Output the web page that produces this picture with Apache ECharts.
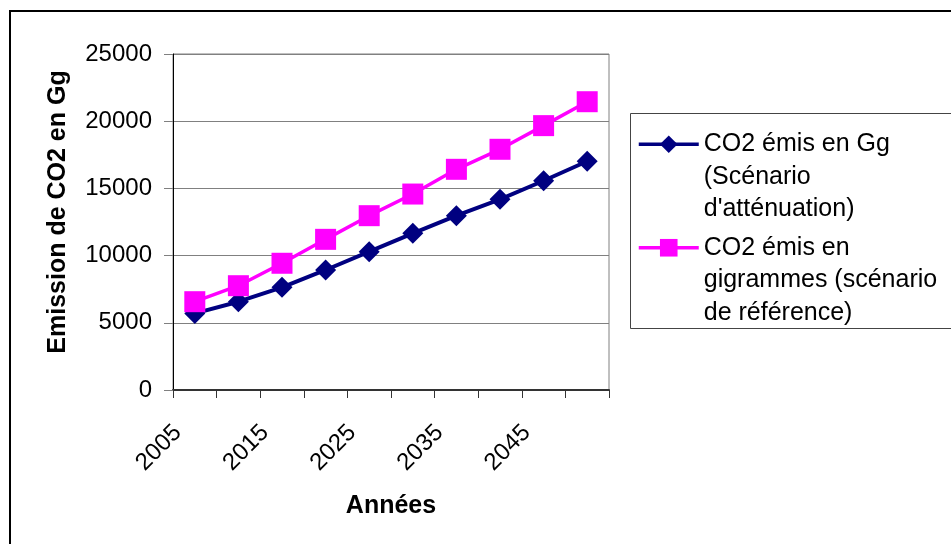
<!DOCTYPE html>
<html>
<head>
<meta charset="utf-8">
<script src="https://cdn.jsdelivr.net/npm/echarts@6/dist/echarts.min.js"></script>
<style>
html,body{margin:0;padding:0;background:#fff;}
#chart{width:951px;height:544px;}
</style>
</head>
<body>
<div id="chart"></div>
<script>
const categories = ['2005','2010','2015','2020','2025','2030','2035','2040','2045','2050'];
const attenuation = [5700, 6570, 7640, 8930, 10290, 11660, 12970, 14190, 15570, 17020];
const reference = [6570, 7760, 9430, 11210, 12970, 14580, 16420, 17910, 19670, 21450];
const yTicks = { min: 0, max: 25000, interval: 5000 };
const seriesNames = ["CO2 émis en Gg\n(Scénario\nd'atténuation)", "CO2 émis en\ngigrammes (scénario\nde référence)"];
const xTitle = 'Années';
const yTitle = 'Emission de CO2 en Gg';

const FONT = '"Liberation Sans", Arial, sans-serif';
const chart = echarts.init(document.getElementById('chart'), null, {renderer: 'canvas'});
chart.setOption({
  backgroundColor: '#fff',
  animation: false,
  textStyle: { fontFamily: FONT, color: '#000' },
  grid: { left: 173, right: 342, top: 54, bottom: 154, show: true, borderColor: '#808080', borderWidth: 1, backgroundColor: '#fff' },
  graphic: [
    { type: 'rect', shape: { x: 10, y: 11, width: 1000, height: 600 }, style: { fill: null, stroke: '#000', lineWidth: 2 }, silent: true, z: 100 },
    { type: 'rect', shape: { x: 630.5, y: 113.5, width: 400, height: 215 }, style: { fill: null, stroke: '#444', lineWidth: 1 }, silent: true, z: 100 }
  ],
  legend: {
    orient: 'vertical',
    left: 637,
    top: 63,
    padding: 0,
    itemGap: -59,
    itemWidth: 60,
    itemHeight: 22,
    selectedMode: false,
    lineStyle: { width: 3.5 },
    formatter: function (name) { return '\n\n' + name; },
    textStyle: { fontFamily: FONT, fontSize: 25, lineHeight: 32.5, color: '#000' },
    data: seriesNames
  },
  xAxis: {
    type: 'category',
    data: categories,
    boundaryGap: true,
    name: xTitle,
    nameLocation: 'middle',
    nameGap: 104,
    nameTextStyle: { fontFamily: FONT, fontSize: 25, fontWeight: 'bold', color: '#000' },
    axisLine: { lineStyle: { color: '#333', width: 2 } },
    axisTick: { show: true, interval: 0, length: 8, lineStyle: { color: '#333', width: 1 } },
    axisLabel: { interval: 1, rotate: 45, margin: 22, padding: [0, 24, 0, 0], fontFamily: FONT, fontSize: 24, color: '#000' },
    splitLine: { show: false }
  },
  yAxis: {
    type: 'value',
    min: yTicks.min, max: yTicks.max, interval: yTicks.interval,
    name: yTitle,
    nameLocation: 'middle',
    nameGap: 102,
    nameTextStyle: { fontFamily: FONT, fontSize: 25, fontWeight: 'bold', color: '#000', padding: [0, 0, 0, 20] },
    axisLine: { show: true, lineStyle: { color: '#000', width: 1 } },
    axisTick: { show: true, length: 9, lineStyle: { color: '#808080', width: 1 } },
    axisLabel: { margin: 21, fontFamily: FONT, fontSize: 24, color: '#000', formatter: function (v) { return String(v); } },
    splitLine: { show: true, lineStyle: { color: '#808080', width: 1 } }
  },
  series: [
    {
      name: seriesNames[0], type: 'line', data: attenuation,
      symbol: 'diamond', symbolSize: 21,
      lineStyle: { color: '#000080', width: 4 },
      itemStyle: { color: '#000080' }
    },
    {
      name: seriesNames[1], type: 'line', data: reference,
      symbol: 'rect', symbolSize: 21,
      lineStyle: { color: '#FF00FF', width: 3.5 },
      itemStyle: { color: '#FF00FF' }
    }
  ]
});
</script>
</body>
</html>
